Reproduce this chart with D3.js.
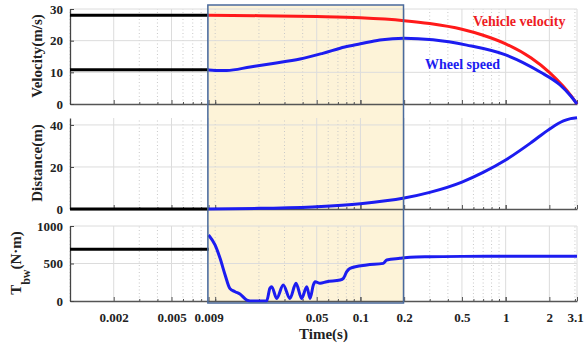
<!DOCTYPE html>
<html><head><meta charset="utf-8">
<script src="https://cdn.jsdelivr.net/npm/d3@7/dist/d3.min.js"></script>
<style>
html,body{margin:0;padding:0;background:#fff;}
svg{display:block;}
</style></head>
<body>
<svg id="chart" width="584" height="349"></svg>
<script>
// ---------- data ----------
const timeTickLabels = [0.002, 0.005, 0.009, 0.05, 0.1, 0.2, 0.5, 1, 2, 3.1];
const velocityTicks = [0, 10, 20, 30];
const distanceTicks = [0, 20, 40];
const torqueTicks = [0, 500, 1000];
const highlightRange = [0.0089, 0.198];

const preTime = [0.001, 0.009];
const preVehicle = [28, 28];
const preWheel = [10.8, 10.8];
const preDistance = [0, 0];
const preTorque = [690, 690];

const vehicleTime = [0.009, 0.02, 0.05, 0.1, 0.2, 0.3, 0.5, 0.7, 1, 1.5, 2, 2.5, 2.8, 3.1];
const vehicleVelocity = [28, 27.9, 27.6, 27.2, 26.3, 25.4, 23.6, 21.7, 19.0, 14.5, 10.0, 5.5, 2.8, 0];

const wheelTime = [0.009, 0.01, 0.012, 0.0174, 0.025, 0.0384, 0.055, 0.078, 0.1, 0.136, 0.2, 0.316, 0.54, 1.0, 1.73, 2.37, 2.8, 3.1];
const wheelSpeed = [10.7, 10.6, 10.6, 11.7, 12.8, 14.2, 16.0, 18.0, 19.0, 20.2, 20.8, 20.3, 18.6, 15.5, 10.1, 6.0, 2.6, 0];

const distanceTime = [0.009, 0.02, 0.05, 0.1, 0.2, 0.3, 0.5, 0.7, 1, 1.5, 2, 2.5, 2.8, 3.1];
const distance = [0, 0.3, 1.1, 2.5, 5.2, 7.9, 12.8, 17.4, 23.3, 31.6, 38.0, 41.9, 43.0, 43.4];

const torqueTime = [0.009, 0.00997, 0.0108, 0.0117, 0.0126, 0.0137, 0.0148, 0.0165, 0.0174, 0.0226, 0.0238, 0.0245, 0.0265, 0.0294, 0.0327, 0.036, 0.0394, 0.0427, 0.045, 0.0474, 0.0487, 0.0527, 0.0586, 0.0724, 0.0763, 0.0805, 0.0848, 0.1105, 0.1438, 0.1517, 0.187, 0.22, 0.3, 0.5, 1, 2, 3.1];
const torque = [880, 747, 569, 347, 169, 124, 93, 13, 0, 0, 169, 191, 35, 213, 35, 236, 35, 191, 35, 213, 257, 236, 257, 280, 302, 391, 436, 480, 502, 547, 569, 583, 590, 595, 597, 597, 597];

// ---------- layout ----------
const svg = d3.select("#chart");
const FONT = "'Liberation Serif','Times New Roman',serif";
const RED = "#ff1a1a", BLUE = "#1c1cf0";

const x = d3.scaleLog().domain([0.001, 3.1]).range([70, 577]);

const panels = [
  {y: d3.scaleLinear().domain([0, 30]).range([104, 9]), ticks: velocityTicks},
  {y: d3.scaleLinear().domain([0, 43.3]).range([209, 118]), ticks: distanceTicks},
  {y: d3.scaleLinear().domain([0, 1000]).range([301, 226]), ticks: torqueTicks}
];

// highlight box fill
const bx0 = x(highlightRange[0]), bx1 = x(highlightRange[1]);
svg.append("rect").attr("x", bx0).attr("y", 5).attr("width", bx1 - bx0).attr("height", 298)
  .attr("fill", "#fdf3d8");

const minorTicks = x.ticks().filter(t => !timeTickLabels.some(l => Math.abs(l - t) < 1e-9));

panels.forEach((p, i) => {
  const g = svg.append("g");
  const [yb, yt] = p.y.range();
  // vertical grid
  g.selectAll(".vmin").data(minorTicks).join("line")
    .attr("x1", d => x(d)).attr("x2", d => x(d)).attr("y1", yb).attr("y2", yt)
    .attr("stroke", "#c8c8c8").attr("stroke-width", 1).attr("stroke-dasharray", "1,2.5");
  g.selectAll(".vmaj").data(timeTickLabels).join("line")
    .attr("x1", d => x(d)).attr("x2", d => x(d)).attr("y1", yb).attr("y2", yt)
    .attr("stroke", "#dcdcdc").attr("stroke-width", 1);
  // horizontal grid
  g.selectAll(".hg").data(p.ticks.filter(t => t > 0)).join("line")
    .attr("x1", 70).attr("x2", 577).attr("y1", d => p.y(d)).attr("y2", d => p.y(d))
    .attr("stroke", "#dcdcdc").attr("stroke-width", 1);

  // bottom axes: minor and labelled ticks
  const minorAxis = d3.axisBottom(x).tickValues(minorTicks).tickSizeInner(-2).tickSizeOuter(0).tickFormat("");
  const ga = svg.append("g").attr("transform", `translate(0,${yb})`).call(minorAxis);
  ga.select(".domain").remove();
  ga.selectAll("line").attr("stroke", "#555");
  const majorAxis = d3.axisBottom(x).tickValues(timeTickLabels).tickSizeInner(-4).tickSizeOuter(0)
    .tickPadding(12).tickFormat(i === 2 ? (d => String(d)) : "");
  const gb = svg.append("g").attr("transform", `translate(0,${yb})`).call(majorAxis);
  gb.select(".domain").attr("stroke", "#555").attr("stroke-width", 1.3);
  gb.selectAll("line").attr("stroke", "#555");
  gb.selectAll("text").attr("font-family", FONT).attr("font-weight", "bold").attr("font-size", 13).attr("fill", "#222")
    .attr("dx", d => d === 3.1 ? -2 : 0);
  // decade ticks
  const decAxis = d3.axisBottom(x).tickValues([0.01, 0.1, 1]).tickSizeInner(-4).tickSizeOuter(0).tickFormat("");
  const gd = svg.append("g").attr("transform", `translate(0,${yb})`).call(decAxis);
  gd.select(".domain").remove();
  gd.selectAll("line").attr("stroke", "#555");

  // left axis
  const yAxis = d3.axisLeft(p.y).tickValues(p.ticks).tickSizeInner(-4).tickSizeOuter(0).tickPadding(7)
    .tickFormat(d => String(d));
  const gy = svg.append("g").attr("transform", "translate(70,0)").call(yAxis);
  gy.select(".domain").attr("stroke", "#444").attr("stroke-width", 1.3);
  gy.selectAll("line").attr("stroke", "#444");
  gy.selectAll("text").attr("font-family", FONT).attr("font-weight", "bold").attr("font-size", 13).attr("fill", "#222");
});

// ---------- lines ----------
const zip = (t, v) => t.map((d, i) => [d, v[i]]);
function drawLine(p, t, v, color, curve) {
  const line = d3.line().x(d => x(d[0])).y(d => p.y(d[1])).curve(curve || d3.curveMonotoneX);
  svg.append("path").datum(zip(t, v)).attr("d", line)
    .attr("fill", "none").attr("stroke", color).attr("stroke-width", 3)
    .attr("stroke-linejoin", "round").attr("stroke-linecap", "butt");
}
drawLine(panels[0], preTime, preVehicle, "#000");
drawLine(panels[0], preTime, preWheel, "#000");
drawLine(panels[0], vehicleTime, vehicleVelocity, RED);
drawLine(panels[0], wheelTime, wheelSpeed, BLUE);
drawLine(panels[1], preTime, preDistance, "#000");
drawLine(panels[1], distanceTime, distance, BLUE);
drawLine(panels[2], preTime, preTorque, "#000");
drawLine(panels[2], torqueTime, torque, BLUE);

// highlight box border
svg.append("rect").attr("x", bx0).attr("y", 5).attr("width", bx1 - bx0).attr("height", 298)
  .attr("fill", "none").attr("stroke", "#4a6a9c").attr("stroke-width", 1.5);

// ---------- labels ----------
const lbl = (s) => s.attr("font-family", FONT).attr("font-weight", "bold").attr("fill", "#222");
lbl(svg.append("text")).attr("x", 323.5).attr("y", 338.5).attr("text-anchor", "middle")
  .attr("font-size", 15).text("Time(s)");
lbl(svg.append("text")).attr("transform", "translate(42,56) rotate(-90)").attr("text-anchor", "middle")
  .attr("font-size", 15).text("Velocity(m/s)");
lbl(svg.append("text")).attr("transform", "translate(42,163) rotate(-90)").attr("text-anchor", "middle")
  .attr("font-size", 15).text("Distance(m)");
const tl = lbl(svg.append("text")).attr("transform", "translate(21,263) rotate(-90)").attr("text-anchor", "middle")
  .attr("font-size", 15);
tl.append("tspan").text("T");
tl.append("tspan").attr("font-size", 12).attr("dy", 9).text("bw");
tl.append("tspan").attr("dy", -9).text("(N·m)");

svg.append("text").attr("x", 473).attr("y", 25.5).attr("font-family", FONT).attr("font-weight", "bold")
  .attr("font-size", 14).attr("fill", "#ee1c24").text("Vehicle velocity");
svg.append("text").attr("x", 425).attr("y", 68.5).attr("font-family", FONT).attr("font-weight", "bold")
  .attr("font-size", 14).attr("fill", "#1c1cf0").text("Wheel speed");
</script>
</body></html>
